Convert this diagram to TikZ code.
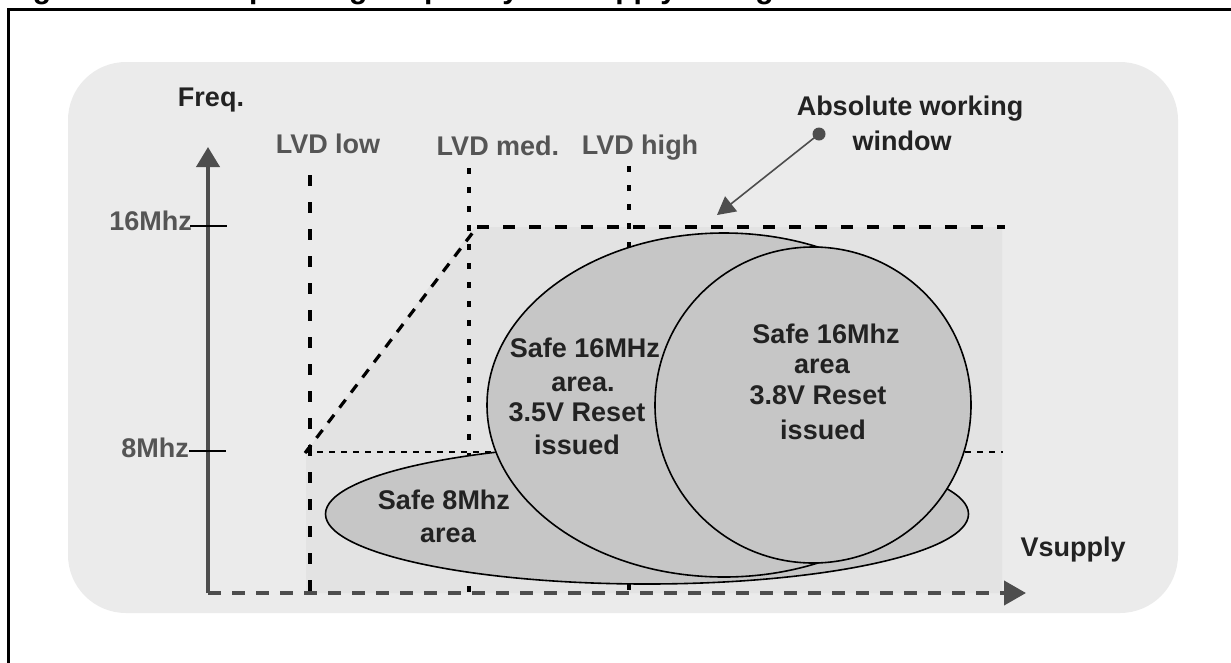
\documentclass[tikz,border=0pt]{standalone}
\usepackage{fontspec}
\setmainfont{Liberation Sans}
\usetikzlibrary{arrows.meta}
\definecolor{panelgray}{HTML}{EBEBEB}
\definecolor{winfill}{HTML}{E3E3E3}
\definecolor{ellfill}{HTML}{C6C6C6}
\definecolor{axisgray}{HTML}{4D4D4D}
\definecolor{lblgray}{HTML}{555555}
\definecolor{txtdark}{HTML}{222222}
\begin{document}
\begin{tikzpicture}[x=1pt,y=-1pt,
  lbl/.style={font=\fontsize{27}{32}\selectfont\bfseries, text=lblgray, inner sep=0pt, anchor=base},
  dlbl/.style={lbl, text=txtdark},
  ttl/.style={font=\fontsize{30}{36}\selectfont\bfseries, text=black, inner sep=0pt, anchor=base west},
  lvdlow/.style={black, line width=3.8, dash pattern=on 11 off 16},
  lvddot/.style={black, line width=3.5, dash pattern=on 6 off 13},
  winedge/.style={black, line width=4, dash pattern=on 12 off 14},
  diagedge/.style={black, line width=3.2, dash pattern=on 10 off 9},
  midline/.style={black, line width=1.8, dash pattern=on 6 off 6},
  tickline/.style={black, line width=1.8},
  area/.style={fill=ellfill, draw=black, line width=1.6},
  axisline/.style={axisgray, line width=4},
]
\useasboundingbox (0,0) rectangle (1231,662);
\clip (0,0) rectangle (1231,662);

% title (mostly outside the page) and frame
\node[ttl] (title) at (6,-1.5) {Figure 10. Safe operating frequency vs. supply voltage};
\draw[black, line width=2.6] (8.5,700) -- (8.5,9.5) -- (1260,9.5);

% panel
\fill[panelgray, rounded corners=58] (68,62) rectangle (1178,613);

% absolute working window fill
\fill[winfill] (306,593) -- (306,452) -- (474,227) -- (1002,227) -- (1002,593) -- cycle;

% coordinates
\coordinate (lowtop) at (310,175);
\coordinate (lowbot) at (310,593);
\coordinate (medtop) at (469,168);
\coordinate (medbot) at (469,593);
\coordinate (hightop) at (629,166);
\coordinate (highbot) at (629,593);
\coordinate (diagA) at (305,453);
\coordinate (diagB) at (477,227);
\coordinate (winR) at (1005,227);
\coordinate (midL) at (305,452);
\coordinate (midR) at (1003,452);

% LVD lines
\draw[lvdlow] (lowtop) -- (lowbot);
\draw[lvddot] (medtop) -- (medbot);
\draw[lvddot] (hightop) -- (highbot);
\draw[midline] (midL) -- (midR);
\draw[diagedge] (diagA) -- (diagB);
\draw[winedge] (diagB) -- (winR);

% areas
\filldraw[area] (647,514) ellipse [x radius=321.5, y radius=70];
\filldraw[area] (724,405) ellipse [x radius=237, y radius=172];
\filldraw[area] (813,405) circle [radius=158];

% axes
\coordinate (origin) at (208,593);
\coordinate (ytip) at (208,147);
\coordinate (xtip) at (1026,593);
\draw[axisline, -{Triangle[length=20,width=23]}] (origin) -- (ytip);
\draw[axisline, dash pattern=on 13 off 11, -{Triangle[length=22,width=24]}] (origin) -- (xtip);

% ticks
\coordinate (t16a) at (190,226);
\coordinate (t16b) at (227,226);
\coordinate (t8a) at (189,451);
\coordinate (t8b) at (226,451);
\draw[tickline] (t16a) -- (t16b);
\draw[tickline] (t8a) -- (t8b);
\node[lbl, anchor=base east] (l16) at (192,230) {16Mhz};
\node[lbl, anchor=base east] (l8) at (189,457) {8Mhz};

% labels
\node[dlbl] (freq) at (211,106) {Freq.};
\node[lbl] (llow) at (328,153) {LVD low};
\node[lbl] (lmed) at (498,155) {LVD med.};
\node[lbl] (lhigh) at (640,154) {LVD high};
\node[dlbl] (abs1) at (910,115) {Absolute working};
\node[dlbl] (abs2) at (902,150) {window};
\node[dlbl] (vsup) at (1073,556) {Vsupply};

% pointer
\coordinate (dot) at (819,134);
\coordinate (ptip) at (717,215);
\draw[axisgray, line width=1.6, -{Triangle[length=18,width=19]}] (dot) -- (ptip);
\fill[axisgray] (dot) circle [radius=6.5];

% area texts
\node[dlbl] (s8a) at (444,509) {Safe 8Mhz};
\node[dlbl] (s8b) at (448,542) {area};
\node[dlbl] (s16a) at (585,357) {Safe 16MHz};
\node[dlbl] (s16b) at (583,391) {area.};
\node[dlbl] (s16c) at (577,421) {3.5V Reset};
\node[dlbl] (s16d) at (577,454) {issued};
\node[dlbl] (c16a) at (826,343) {Safe 16Mhz};
\node[dlbl] (c16b) at (822,373) {area};
\node[dlbl] (c16c) at (818,404) {3.8V Reset};
\node[dlbl] (c16d) at (823,439) {issued};
\end{tikzpicture}
\end{document}
